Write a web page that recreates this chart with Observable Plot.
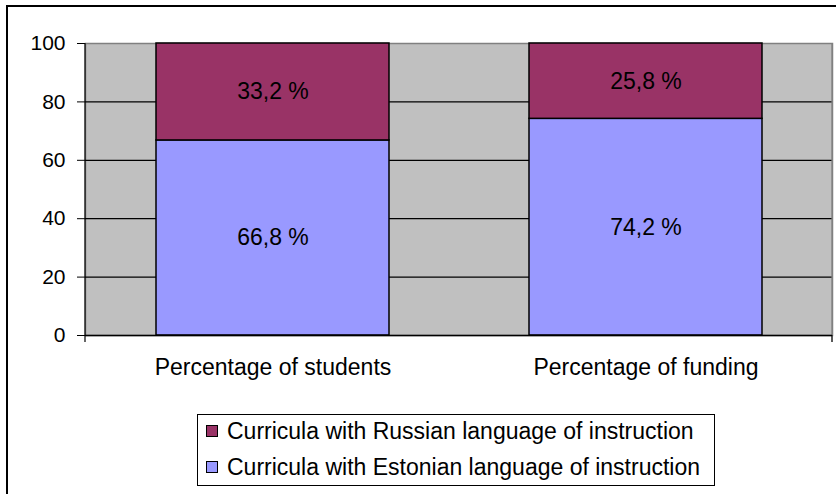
<!DOCTYPE html>
<html><head><meta charset="utf-8">
<script src="https://cdn.jsdelivr.net/npm/d3@7"></script>
<script src="https://cdn.jsdelivr.net/npm/@observablehq/plot@0.6"></script>
<style>
html,body{margin:0;padding:0;background:#fff;overflow:hidden;}
#wrap{position:relative;width:836px;height:494px;overflow:hidden;font-family:"Liberation Sans",Arial,sans-serif;}
#border{position:absolute;left:6px;top:5px;width:1000px;height:1000px;border:2px solid #000;box-sizing:border-box;}
#legend{position:absolute;left:197px;top:414px;width:518px;height:72px;border:1px solid #000;box-sizing:border-box;background:#fff;font-size:23px;color:#000;}
.row{position:absolute;left:8px;display:flex;align-items:center;white-space:nowrap;line-height:26px;}
.sw{width:10px;height:10px;border:1px solid #000;margin-right:9px;}
</style></head>
<body><div id="wrap"><div id="border"></div></div>
<script>
const categories = ["Percentage of students", "Percentage of funding"];
const seriesNames = ["Curricula with Estonian language of instruction", "Curricula with Russian language of instruction"];
const estonian = [66.8, 74.2];
const russian = [33.2, 25.8];
const colors = ["#9999ff", "#993366"];
const yTicks = [0, 20, 40, 60, 80, 100];
const legendOrder = [1, 0];

const data = [];
categories.forEach((c, i) => {
  data.push({cat: c, series: seriesNames[0], value: estonian[i]});
  data.push({cat: c, series: seriesNames[1], value: russian[i]});
});
const fmt = v => v.toFixed(1).replace(".", ",") + " %";

const boundaryTicks = (index, scales, values, dims) => {
  const g = d3.create("svg:g");
  const y0 = dims.height - dims.marginBottom;
  [dims.marginLeft, dims.width - dims.marginRight].forEach(x => {
    g.append("line").attr("x1", x).attr("x2", x).attr("y1", dims.marginTop).attr("y2", y0 + 7)
      .attr("stroke", x === dims.marginLeft ? "#000" : "#808080").attr("stroke-width", 1.2);
  });
  g.append("line").attr("x1", dims.width - dims.marginRight).attr("x2", dims.width - dims.marginRight)
    .attr("y1", y0).attr("y2", y0 + 7).attr("stroke", "#000");
  return g.node();
};

const chart = Plot.plot({
  width: 836,
  height: 494,
  marginLeft: 85,
  marginRight: 4,
  marginTop: 43,
  marginBottom: 159,
  style: {fontFamily: "'Liberation Sans', Arial, sans-serif", fontSize: "23px", background: "transparent", color: "#000"},
  x: {domain: categories, paddingInner: 0.376, paddingOuter: 0.188, label: null},
  y: {domain: [0, 100], label: null},
  color: {domain: seriesNames, range: colors},
  marks: [
    Plot.frame({fill: "#c0c0c0", stroke: "#808080", strokeWidth: 1.5}),
    Plot.ruleY(yTicks.filter(t => t > 0 && t < 100), {stroke: "#000", strokeWidth: 1.2}),
    Plot.barY(data, {x: "cat", y: "value", fill: "series", stroke: "#000", strokeWidth: 1.5, order: seriesNames}),
    boundaryTicks,
    Plot.ruleY([0], {stroke: "#000", strokeWidth: 1.5}),
    Plot.axisY({ticks: yTicks, tickSize: 8, tickPadding: 12, fontSize: 21, stroke: "#000"}),
    Plot.axisX({tickSize: 0, tickPadding: 23, fontSize: 23}),
    Plot.text(data, Plot.stackY({x: "cat", y: "value", z: "series", order: seriesNames, text: d => fmt(d.value), fontSize: 23, fill: "#000"}))
  ]
});
chart.style.position = "absolute";
chart.style.left = "0px";
chart.style.top = "0px";
const wrap = document.getElementById("wrap");
wrap.appendChild(chart);

const legend = document.createElement("div");
legend.id = "legend";
legendOrder.forEach((si, k) => {
  const row = document.createElement("div");
  row.className = "row";
  row.style.top = (k === 0 ? 3 : 39) + "px";
  row.innerHTML = `<div class="sw" style="background:${colors[si]}"></div><span>${seriesNames[si]}</span>`;
  legend.appendChild(row);
});
wrap.appendChild(legend);
</script></body></html>
